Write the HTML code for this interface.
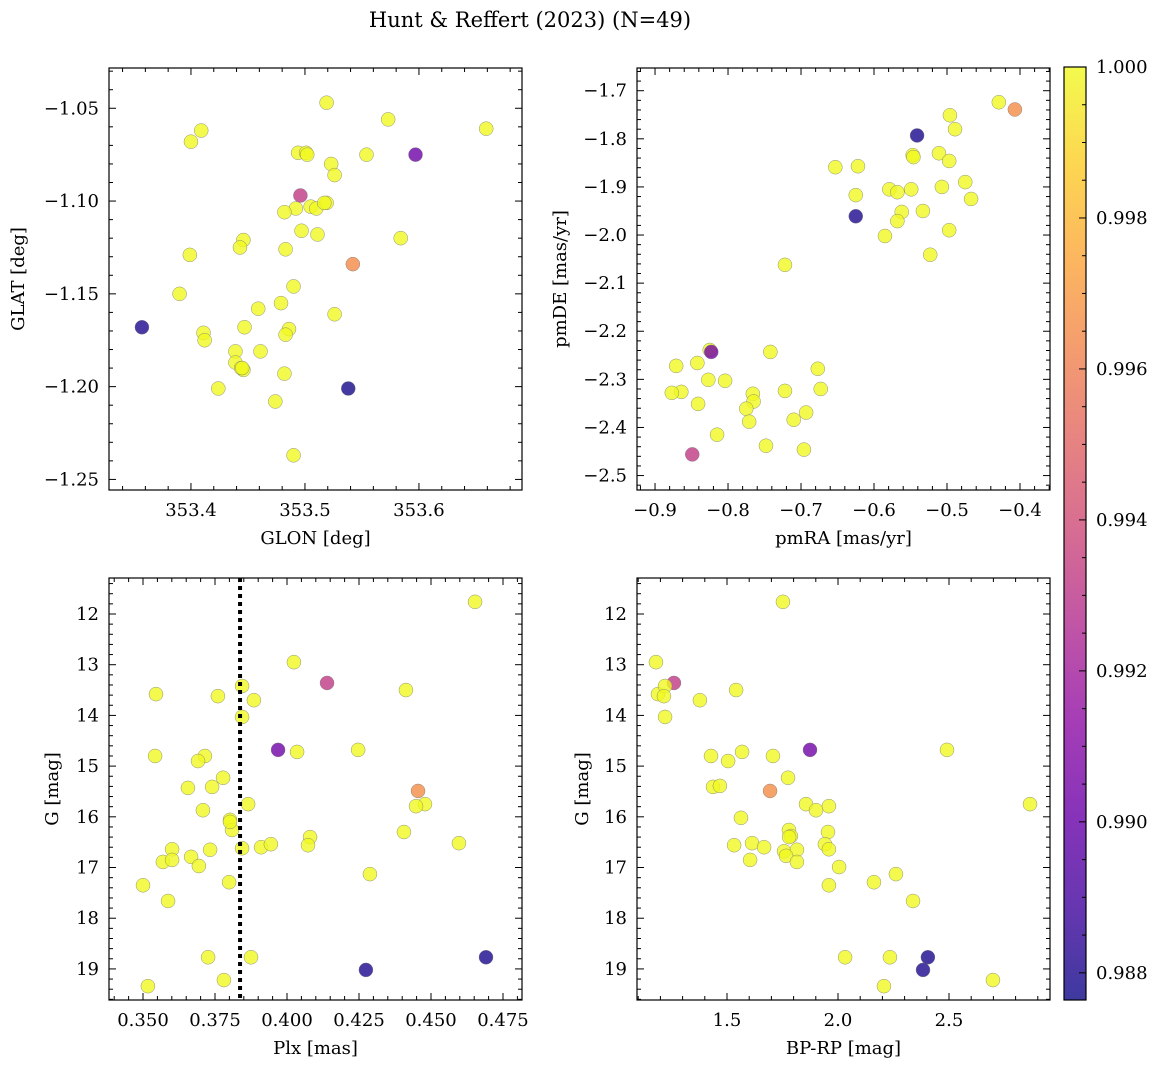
<!DOCTYPE html>
<html><head><meta charset="utf-8"><style>
html,body{margin:0;padding:0;background:#fff;}
svg{display:block;font-family:"DejaVu Serif","Liberation Serif",serif;}
</style></head><body>
<svg id="fig" width="1161" height="1067" viewBox="0 0 1161 1067" xmlns="http://www.w3.org/2000/svg">
<defs>
<linearGradient id="plasma" x1="0" y1="1" x2="0" y2="0">
<stop offset="0" stop-color="#0d0887"/><stop offset="0.1" stop-color="#41049d"/><stop offset="0.2" stop-color="#6a00a8"/><stop offset="0.3" stop-color="#8f0da4"/><stop offset="0.4" stop-color="#b12a90"/><stop offset="0.5" stop-color="#cc4778"/><stop offset="0.6" stop-color="#e16462"/><stop offset="0.7" stop-color="#f2844b"/><stop offset="0.8" stop-color="#fca636"/><stop offset="0.9" stop-color="#fcce25"/><stop offset="1" stop-color="#f0f921"/>
</linearGradient>
</defs>
<text x="530" y="27" font-size="21" text-anchor="middle">Hunt &amp; Reffert (2023) (N=49)</text>
</svg>
<script>
// ---- data ----
const glon = [353.519,353.573,353.659,353.409,353.400,353.597,353.494,353.501,353.502,353.554,353.496,353.523,353.526,353.505,353.510,353.519,353.517,353.492,353.482,353.497,353.511,353.584,353.446,353.443,353.483,353.542,353.399,353.390,353.490,353.479,353.459,353.526,353.357,353.447,353.411,353.486,353.483,353.412,353.439,353.461,353.439,353.446,353.444,353.482,353.424,353.538,353.474,353.490,353.445];
const glat = [-1.047,-1.056,-1.061,-1.062,-1.068,-1.075,-1.074,-1.074,-1.075,-1.075,-1.097,-1.080,-1.086,-1.103,-1.104,-1.101,-1.101,-1.104,-1.106,-1.116,-1.118,-1.120,-1.121,-1.125,-1.126,-1.134,-1.129,-1.150,-1.146,-1.155,-1.158,-1.161,-1.168,-1.168,-1.171,-1.169,-1.172,-1.175,-1.181,-1.181,-1.187,-1.191,-1.190,-1.193,-1.201,-1.201,-1.208,-1.237,-1.190];
const prob1 = [1,1,1,1,1,0.9902,1,1,1,1,0.9932,1,1,1,1,1,1,1,1,1,1,1,1,1,1,0.9965,1,1,1,1,1,1,0.9880,1,1,1,1,1,1,1,1,1,1,1,1,0.9878,1,1,1];

const pmra = [-0.429,-0.407,-0.541,-0.496,-0.489,-0.547,-0.546,-0.511,-0.497,-0.653,-0.622,-0.475,-0.507,-0.549,-0.579,-0.568,-0.625,-0.467,-0.533,-0.562,-0.625,-0.568,-0.497,-0.585,-0.523,-0.722,-0.825,-0.823,-0.871,-0.842,-0.742,-0.677,-0.827,-0.804,-0.864,-0.877,-0.722,-0.673,-0.766,-0.765,-0.775,-0.841,-0.710,-0.693,-0.771,-0.815,-0.748,-0.696,-0.849];
const pmde = [-1.724,-1.739,-1.793,-1.751,-1.780,-1.834,-1.838,-1.830,-1.846,-1.859,-1.857,-1.890,-1.900,-1.905,-1.905,-1.911,-1.917,-1.925,-1.950,-1.952,-1.961,-1.971,-1.990,-2.002,-2.041,-2.062,-2.239,-2.243,-2.272,-2.266,-2.243,-2.278,-2.301,-2.303,-2.326,-2.328,-2.324,-2.320,-2.330,-2.346,-2.361,-2.351,-2.384,-2.369,-2.388,-2.415,-2.438,-2.446,-2.456];
const prob2 = [1,0.9966,0.9879,1,1,1,1,1,1,1,1,1,1,1,1,1,1,1,1,1,0.9880,1,1,1,1,1,1,0.9903,1,1,1,1,1,1,1,1,1,1,1,1,1,1,1,1,1,1,1,1,0.9932];

const plx = [0.4653,0.4024,0.4139,0.3545,0.3760,0.3844,0.4413,0.3885,0.3844,0.3969,0.4035,0.4247,0.3542,0.3715,0.3691,0.3740,0.3656,0.3778,0.4455,0.3865,0.4479,0.4448,0.3708,0.3802,0.3809,0.4406,0.4080,0.3844,0.3601,0.3733,0.3910,0.3944,0.4073,0.4597,0.3667,0.3569,0.3601,0.3694,0.4288,0.3500,0.3799,0.3587,0.3726,0.3875,0.4691,0.4274,0.3781,0.3517,0.3802];
const gmag3 = [11.76,12.95,13.36,13.58,13.62,13.42,13.50,13.70,14.03,14.68,14.72,14.68,14.80,14.80,14.90,15.41,15.43,15.23,15.49,15.75,15.75,15.79,15.87,16.06,16.26,16.30,16.40,16.62,16.64,16.65,16.60,16.54,16.56,16.52,16.79,16.89,16.85,16.97,17.13,17.35,17.29,17.66,18.77,18.77,18.77,19.02,19.22,19.34,16.10];
const prob3 = [1,1,0.9932,1,1,1,1,1,1,0.9903,1,1,1,1,1,1,1,1,0.9966,1,1,1,1,1,1,1,1,1,1,1,1,1,1,1,1,1,1,1,1,1,1,1,1,1,0.9879,0.9880,1,1,1];
const plxCut = 0.3837;

const bprp = [1.752,1.180,1.261,1.189,1.221,1.216,1.541,1.378,1.221,1.874,2.491,1.428,1.568,1.707,1.505,1.437,1.468,1.775,1.694,2.865,1.856,1.959,1.901,1.563,1.779,1.955,1.788,1.532,1.613,1.667,1.941,1.959,1.757,1.815,1.766,1.604,1.815,2.005,2.261,2.162,1.959,2.338,2.032,2.234,2.405,2.383,2.698,2.207,1.780];
const gmag4 = [11.76,12.95,13.36,13.58,13.42,13.62,13.50,13.70,14.03,14.68,14.68,14.80,14.72,14.80,14.90,15.41,15.39,15.23,15.49,15.75,15.75,15.79,15.87,16.02,16.26,16.30,16.38,16.56,16.52,16.60,16.54,16.64,16.68,16.65,16.77,16.85,16.89,16.99,17.13,17.29,17.35,17.66,18.77,18.77,18.77,19.02,19.22,19.34,16.40];
const prob4 = [1,1,0.9932,1,1,1,1,1,1,0.9903,1,1,1,1,1,1,1,1,0.9966,1,1,1,1,1,1,1,1,1,1,1,1,1,1,1,1,1,1,1,1,1,1,1,1,1,0.9879,0.9880,1,1,1];

const cbTicks = [0.988,0.990,0.992,0.994,0.996,0.998,1.000];
const cMin = 0.98764, cMax = 1.0;

const NS = "http://www.w3.org/2000/svg";
const svg = document.getElementById("fig");
function mk(tag, attrs, parent){const e=document.createElementNS(NS,tag);for(const k in attrs)e.setAttribute(k,attrs[k]);(parent||svg).appendChild(e);return e;}

const stops=[[0,[13,8,135]],[0.1,[65,4,157]],[0.2,[106,0,168]],[0.3,[143,13,164]],[0.4,[177,42,144]],[0.5,[204,71,120]],[0.6,[225,100,98]],[0.7,[242,132,75]],[0.8,[252,166,54]],[0.9,[252,206,37]],[1,[240,249,33]]];
function plasma(t){t=Math.max(0,Math.min(1,t));for(let i=1;i<stops.length;i++){if(t<=stops[i][0]){const a=stops[i-1],b=stops[i];const f=(t-a[0])/(b[0]-a[0]);const c=a[1].map((v,j)=>Math.round(v+(b[1][j]-v)*f));return `rgb(${c[0]},${c[1]},${c[2]})`;}}return "rgb(240,249,33)";}

function fmt(v,d){const s=Math.abs(v).toFixed(d);return (v<-1e-9?"\u2212":"")+s;}

function panel(cfg){
  const g=mk("g",{});
  
  
  const {x0,x1,y0,y1}=cfg;
  const sx=v=>x0+(v-cfg.xmin)/(cfg.xmax-cfg.xmin)*(x1-x0);
  const sy=v=>cfg.yinv? y0+(v-cfg.ymin)/(cfg.ymax-cfg.ymin)*(y1-y0) : y1-(v-cfg.ymin)/(cfg.ymax-cfg.ymin)*(y1-y0);
  const pg=mk("g",{},g);
  
  
  for(let i=0;i<cfg.xs.length;i++){
    const c=mk("circle",{cx:sx(cfg.xs[i]),cy:sy(cfg.ys[i]),r:7,fill:plasma((cfg.cs[i]-cMin)/(cMax-cMin)),"fill-opacity":0.8,stroke:"#777","stroke-width":0.5,"stroke-opacity":0.8},pg);
    
    
  }
  if(cfg.vline!==undefined){
    const l=mk("line",{x1:sx(cfg.vline),x2:sx(cfg.vline),y1:y0,y2:y1,stroke:"#000","stroke-width":4,"stroke-dasharray":"4 4"},g);
    
    
  }
  const tg=mk("g",{stroke:"#000","stroke-width":1},g);
  
  
  const eps=1e-9;
  for(let v=Math.ceil(cfg.xmin/cfg.xminor-eps)*cfg.xminor; v<=cfg.xmax+eps; v+=cfg.xminor){
    const isMaj=Math.abs(v/cfg.xmajor-Math.round(v/cfg.xmajor))<1e-6;const L=isMaj?7:4;const X=sx(v);
    mk("line",{x1:X,x2:X,y1:y1,y2:y1-L},tg);mk("line",{x1:X,x2:X,y1:y0,y2:y0+L},tg);
  }
  for(let v=Math.ceil(cfg.ymin/cfg.yminor-eps)*cfg.yminor; v<=cfg.ymax+eps; v+=cfg.yminor){
    const isMaj=Math.abs(v/cfg.ymajor-Math.round(v/cfg.ymajor))<1e-6;const L=isMaj?7:4;const Y=sy(v);
    mk("line",{x1:x0,x2:x0+L,y1:Y,y2:Y},tg);mk("line",{x1:x1,x2:x1-L,y1:Y,y2:Y},tg);
  }
  mk("rect",{x:x0,y:y0,width:x1-x0,height:y1-y0,fill:"none",stroke:"#000","stroke-width":1.2},g);
  cfg.xticks.forEach(v=>{const t=mk("text",{x:sx(v),y:y1+26,"font-size":18,"text-anchor":"middle"},g);t.textContent=fmt(v,cfg.xdec);
    
    });
  cfg.yticks.forEach(v=>{const t=mk("text",{x:x0-10,y:sy(v)+6,"font-size":18,"text-anchor":"end"},g);t.textContent=fmt(v,cfg.ydec);
    
    });
  const xl=mk("text",{x:(x0+x1)/2,y:y1+54,"font-size":18,"text-anchor":"middle"},g);xl.textContent=cfg.xlabel;
  
  
  const yl=mk("text",{x:cfg.ylx,y:(y0+y1)/2,"font-size":18,"text-anchor":"middle",transform:`rotate(-90 ${cfg.ylx} ${(y0+y1)/2})`},g);yl.textContent=cfg.ylabel;
  
  
}

panel({name:"sky-panel",x0:109,x1:522,y0:68,y1:490,xmin:353.3281,xmax:353.6904,ymin:-1.2557,ymax:-1.0283,
  xs:glon,ys:glat,cs:prob1,xmajor:0.1,xminor:0.02,ymajor:0.05,yminor:0.01,xticks:[353.4,353.5,353.6],xdec:1,
  yticks:[-1.25,-1.20,-1.15,-1.10,-1.05],ydec:2,xlabel:"GLON [deg]",ylabel:"GLAT [deg]",ylx:24});
panel({name:"proper-motion-panel",x0:637,x1:1050,y0:68,y1:490,xmin:-0.9247,xmax:-0.3589,ymin:-2.530,ymax:-1.6528,
  xs:pmra,ys:pmde,cs:prob2,xmajor:0.1,xminor:0.02,ymajor:0.1,yminor:0.02,xticks:[-0.9,-0.8,-0.7,-0.6,-0.5,-0.4],xdec:1,
  yticks:[-2.5,-2.4,-2.3,-2.2,-2.1,-2.0,-1.9,-1.8,-1.7],ydec:1,xlabel:"pmRA [mas/yr]",ylabel:"pmDE [mas/yr]",ylx:566});
panel({name:"parallax-panel",x0:109,x1:522,y0:578,y1:1000,xmin:0.33819,xmax:0.48160,ymin:11.290,ymax:19.613,yinv:true,
  xs:plx,ys:gmag3,cs:prob3,vline:plxCut,xmajor:0.025,xminor:0.005,ymajor:1,yminor:0.2,xticks:[0.35,0.375,0.4,0.425,0.45,0.475],xdec:3,
  yticks:[12,13,14,15,16,17,18,19],ydec:0,xlabel:"Plx [mas]",ylabel:"G [mag]",ylx:58});
panel({name:"cmd-panel",x0:637,x1:1050,y0:578,y1:1000,xmin:1.0946,xmax:2.955,ymin:11.290,ymax:19.613,yinv:true,
  xs:bprp,ys:gmag4,cs:prob4,xmajor:0.5,xminor:0.1,ymajor:1,yminor:0.2,xticks:[1.5,2.0,2.5],xdec:1,
  yticks:[12,13,14,15,16,17,18,19],ydec:0,xlabel:"BP-RP [mag]",ylabel:"G [mag]",ylx:588});

const cb=mk("g",{});


const cbx0=1064,cbx1=1086,cby0=67,cby1=1000;
mk("rect",{x:cbx0,y:cby0,width:cbx1-cbx0,height:cby1-cby0,fill:"url(#plasma)","fill-opacity":0.8},cb);
mk("rect",{x:cbx0,y:cby0,width:cbx1-cbx0,height:cby1-cby0,fill:"none",stroke:"#000","stroke-width":1.2},cb);
const cy=v=>cby1-(v-cMin)/(cMax-cMin)*(cby1-cby0);
for(let v=0.9880;v<=1.00001;v+=0.0005){const Y=cy(v);const maj=Math.abs(v*1000-Math.round(v*1000)*1)<1e-6&&Math.round(v*1000)%2===0;
  mk("line",{x1:cbx1,x2:cbx1-(maj?7:4),y1:Y,y2:Y,stroke:"#000","stroke-width":1},cb);}
cbTicks.forEach(v=>{const t=mk("text",{x:cbx1+10,y:cy(v)+6,"font-size":18},cb);t.textContent=v.toFixed(3);
  
  });
</script>
</body></html>
